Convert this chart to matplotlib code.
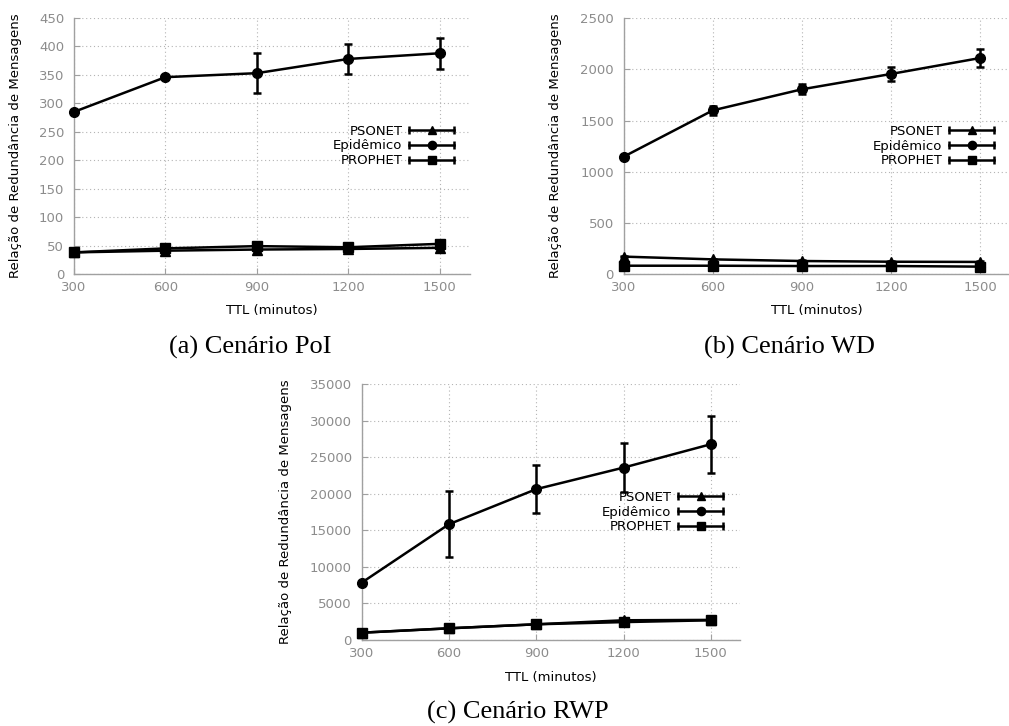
import matplotlib
matplotlib.use("Agg")
import matplotlib.pyplot as plt
from matplotlib.legend_handler import HandlerBase
from matplotlib.lines import Line2D

# ---------------- data ----------------
ttl = [300, 600, 900, 1200, 1500]
series_names = ["PSONET", "Epidêmico", "PROPHET"]
series_markers = ["^", "o", "s"]

poi_psonet = [38, 41, 43, 44, 46]
poi_psonet_err = [2, 2, 2, 2, 2]
poi_epid = [285, 346, 353, 378, 388]
poi_epid_err = [3, 3, 35, 26, 27]
poi_prophet = [38, 45, 49, 47, 53]
poi_prophet_err = [3, 3, 3, 3, 3]

wd_psonet = [170, 143, 127, 120, 118]
wd_psonet_err = [8, 8, 8, 8, 8]
wd_epid = [1147, 1600, 1806, 1956, 2112]
wd_epid_err = [15, 45, 50, 70, 85]
wd_prophet = [81, 81, 78, 78, 72]
wd_prophet_err = [5, 5, 5, 5, 5]

rwp_psonet = [1000, 1600, 2150, 2700, 2750]
rwp_psonet_err = [100, 150, 200, 250, 250]
rwp_epid = [7850, 15850, 20650, 23600, 26800]
rwp_epid_err = [200, 4500, 3300, 3300, 3900]
rwp_prophet = [1000, 1600, 2150, 2450, 2700]
rwp_prophet_err = [100, 150, 200, 250, 250]

yticks_poi = [0, 50, 100, 150, 200, 250, 300, 350, 400, 450]
yticks_wd = [0, 500, 1000, 1500, 2000, 2500]
yticks_rwp = [0, 5000, 10000, 15000, 20000, 25000, 30000, 35000]

captions = ["(a) Cenário PoI", "(b) Cenário WD", "(c) Cenário RWP"]
ylabel = "Relação de Redundância de Mensagens"
xlabel = "TTL (minutos)"

# ---------------- style ----------------
plt.rcParams['font.family'] = ['DejaVu Sans']
FS = 9.5
LW = 1.8
MS = 7
CAP = 2.6
GRAY = "#8c8c8c"

W, H = 1009, 726
fig = plt.figure(figsize=(W / 100, H / 100), dpi=100)


class GnuHandler(HandlerBase):
    def create_artists(self, legend, orig_handle, xdescent, ydescent,
                       width, height, fontsize, trans):
        y = height / 2 - ydescent
        x0 = -xdescent
        x1 = -xdescent + width
        line = Line2D([x0, x1], [y, y], color='black', lw=LW, transform=trans)
        caps = Line2D([x0, x1], [y, y], ls='none', marker='|', ms=6,
                      mew=LW, color='black', transform=trans)
        mk = Line2D([(x0 + x1) / 2], [y], ls='none',
                    marker=orig_handle.get_marker(), ms=MS * 0.85,
                    color='black', transform=trans)
        return [line, caps, mk]


def px_axes(left, right, bottom, top):
    return fig.add_axes([left / W, 1 - bottom / H, (right - left) / W, (bottom - top) / H])


panels = [
    dict(box=(74, 470, 274, 18), ymax=450, yt=yticks_poi,
         data=[(poi_psonet, poi_psonet_err), (poi_epid, poi_epid_err), (poi_prophet, poi_prophet_err)],
         ylab_px=15, leg_right=454, cap_x=250, cap_y=347),
    dict(box=(623.7, 1010, 274, 18.3), ymax=2500, yt=yticks_wd,
         data=[(wd_psonet, wd_psonet_err), (wd_epid, wd_epid_err), (wd_prophet, wd_prophet_err)],
         ylab_px=555, leg_right=994, cap_x=789, cap_y=347),
    dict(box=(361.7, 740, 640, 384.3), ymax=35000, yt=yticks_rwp,
         data=[(rwp_psonet, rwp_psonet_err), (rwp_epid, rwp_epid_err), (rwp_prophet, rwp_prophet_err)],
         ylab_px=286, leg_right=723, cap_x=518, cap_y=712),
]

for i, p in enumerate(panels):
    l, r, b, t = p['box']
    ax = px_axes(l, r, b, t)
    ax.set_xlim(300, 1600)
    ax.set_ylim(0, p['ymax'])
    ax.set_xticks(ttl)
    ax.set_yticks(p['yt'])
    for s in ['top', 'right']:
        ax.spines[s].set_visible(False)
    for s in ['left', 'bottom']:
        ax.spines[s].set_color("#a0a0a0")
        ax.spines[s].set_linewidth(1.0)
    ax.tick_params(direction='in', length=4, width=0.8, color="#a0a0a0",
                   labelcolor=GRAY, labelsize=FS)
    ax.tick_params(axis='y', pad=7)
    ax.tick_params(axis='x', pad=5)
    ax.grid(True, ls=(0, (1, 2.5)), color="#b4b4b4", lw=0.8)
    ax.set_axisbelow(True)

    handles = []
    for (vals, errs), name, mk in zip(p['data'], series_names, series_markers):
        ax.errorbar(ttl, vals, yerr=errs, color='black', lw=LW, marker=mk, ms=MS,
                    capsize=CAP, capthick=LW, elinewidth=LW, clip_on=False, zorder=3)
        handles.append(Line2D([], [], color='black', marker=mk, label=name))

    ax.set_ylabel(ylabel, fontsize=FS, color='black', va='center')
    ax.yaxis.set_label_coords((p['ylab_px'] - l) / (r - l), 0.5)
    ax.set_xlabel(xlabel, fontsize=FS, color='black', va='center')
    ax.xaxis.set_label_coords(0.5, -37 / (b - t))

    ax.legend(handles=handles, handler_map={Line2D: GnuHandler()},
              loc='center right', bbox_to_anchor=((p['leg_right'] - l) / (r - l), 0.5),
              frameon=False, fontsize=FS, markerfirst=False, handlelength=3.4,
              handletextpad=0.5, labelspacing=0.13, borderpad=0, borderaxespad=0)

    fig.text(p['cap_x'] / W, 1 - p['cap_y'] / H, captions[i], ha='center', va='center',
             fontsize=19, family=['Liberation Serif', 'DejaVu Serif'])

fig.savefig("out.png", dpi=100)
